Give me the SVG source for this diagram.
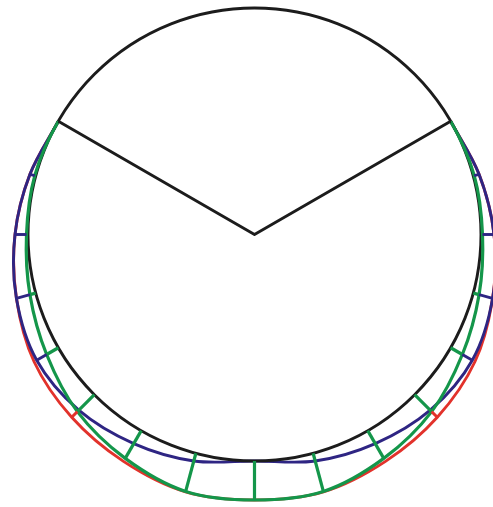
<svg xmlns="http://www.w3.org/2000/svg" width="493" height="507" viewBox="0 0 493 507">
<style>
.k{fill:none;stroke:#1c1c1c;stroke-width:2.9;stroke-linejoin:round}
.b{fill:none;stroke:#2e2583;stroke-width:2.9;stroke-linecap:butt}
.g{fill:none;stroke:#14964a;stroke-width:3.2;stroke-linecap:butt}
.r{fill:none;stroke:#e2322b;stroke-width:2.9;stroke-linecap:butt}
</style>
<rect width="493" height="507" fill="#ffffff"/>
<g id="red-curve">
<path class="r" d="M 58.35 121.25 C 48.88 138.94, 37.16 155.45, 29.93 174.33 C 22.7 193.21, 17.26 213.84, 15 234.5 C 12.74 255.16, 13.22 277.08, 16.4 298.29 C 19.58 319.5, 24.88 341.92, 34.1 361.75 C 43.32 381.58, 56.81 400.68, 71.71 417.29 C 86.61 433.9, 104.53 448.95, 123.5 461.39 C 142.47 473.83, 163.7 485.47, 185.53 491.91 C 207.36 498.35, 231.51 500, 254.5 500 C 277.49 500, 301.64 498.35, 323.47 491.91 C 345.3 485.47, 366.53 473.83, 385.5 461.39 C 404.47 448.95, 422.39 433.9, 437.29 417.29 C 452.19 400.68, 465.68 381.58, 474.9 361.75 C 484.12 341.92, 489.42 319.5, 492.6 298.29 C 495.78 277.08, 496.26 255.16, 494 234.5 C 491.74 213.84, 486.3 193.21, 479.07 174.33 C 471.84 155.45, 460.12 138.94, 450.65 121.25"/>
</g>
<g id="blue-curve">
<path class="b" d="M 58.35 121.25 C 48.88 138.94, 37.16 155.45, 29.93 174.33 C 22.7 193.21, 17.26 213.84, 15 234.5 C 12.74 255.16, 12.78 277.33, 16.4 298.29 C 20.02 319.25, 26.3 341.6, 36.7 360.25 C 47.1 378.9, 62.61 396.31, 78.79 410.21 C 94.97 424.11, 114.58 435.17, 133.75 443.64 C 152.92 452.11, 173.68 458.11, 193.81 461 C 213.94 463.89, 234.27 461, 254.5 461 C 274.73 461, 295.06 463.89, 315.19 461 C 335.32 458.11, 356.08 452.11, 375.25 443.64 C 394.42 435.17, 414.03 424.11, 430.21 410.21 C 446.39 396.31, 461.9 378.9, 472.3 360.25 C 482.7 341.6, 488.98 319.25, 492.6 298.29 C 496.22 277.33, 496.26 255.16, 494 234.5 C 491.74 213.84, 486.3 193.21, 479.07 174.33 C 471.84 155.45, 460.12 138.94, 450.65 121.25"/>
</g>
<g id="circle">
<circle class="k" cx="254.5" cy="234.5" r="226.5"/>
</g>
<g id="green-curve">
<path class="g" d="M 58.35 121.25 C 48.47 138.37, 40.07 156.74, 34.76 175.62 C 29.45 194.5, 27.31 214.66, 26.5 234.5 C 25.69 254.34, 26.57 274.67, 29.93 294.67 C 33.29 314.67, 38.74 335.01, 46.65 354.5 C 54.56 373.99, 64.27 394.32, 77.37 411.63 C 90.47 428.94, 107.2 445.06, 125.25 458.36 C 143.3 471.66, 164.12 484.49, 185.66 491.43 C 207.2 498.37, 231.55 500, 254.5 500 C 277.45 500, 301.8 498.37, 323.34 491.43 C 344.88 484.49, 365.7 471.66, 383.75 458.36 C 401.8 445.06, 418.53 428.94, 431.63 411.63 C 444.73 394.32, 454.44 373.99, 462.35 354.5 C 470.26 335.01, 475.71 314.67, 479.07 294.67 C 482.43 274.67, 483.31 254.34, 482.5 234.5 C 481.69 214.66, 479.55 194.5, 474.24 175.62 C 468.93 156.74, 460.53 138.37, 450.65 121.25"/>
</g>
<g id="radius-lines">
<polyline class="k" points="58.35,121.25 254.5,234.5 450.65,121.25"/>
</g>
<g id="connectors">
<g class="g">
<line x1="254.5" y1="461" x2="254.5" y2="500"/>
<line x1="313.12" y1="453.28" x2="323.34" y2="491.43"/>
<line x1="195.88" y1="453.28" x2="185.66" y2="491.43"/>
<line x1="367.75" y1="430.65" x2="383.75" y2="458.36"/>
<line x1="141.25" y1="430.65" x2="125.25" y2="458.36"/>
<line x1="414.66" y1="394.66" x2="431.63" y2="411.63"/>
<line x1="94.34" y1="394.66" x2="77.37" y2="411.63"/>
<line x1="450.65" y1="347.75" x2="462.35" y2="354.5"/>
<line x1="58.35" y1="347.75" x2="46.65" y2="354.5"/>
<line x1="473.28" y1="293.12" x2="479.07" y2="294.67"/>
<line x1="35.72" y1="293.12" x2="29.93" y2="294.67"/>
</g>
<g class="r">
<line x1="431.63" y1="411.63" x2="437.29" y2="417.29"/>
<line x1="77.37" y1="411.63" x2="71.71" y2="417.29"/>
</g>
<g class="b">
<line x1="462.35" y1="354.5" x2="472.3" y2="360.25"/>
<line x1="46.65" y1="354.5" x2="36.7" y2="360.25"/>
<line x1="479.07" y1="294.67" x2="492.6" y2="298.29"/>
<line x1="29.93" y1="294.67" x2="16.4" y2="298.29"/>
<line x1="482.5" y1="234.5" x2="494" y2="234.5"/>
<line x1="26.5" y1="234.5" x2="15" y2="234.5"/>
<line x1="474.24" y1="175.62" x2="479.07" y2="174.33"/>
<line x1="34.76" y1="175.62" x2="29.93" y2="174.33"/>
</g>
</g>
</svg>
